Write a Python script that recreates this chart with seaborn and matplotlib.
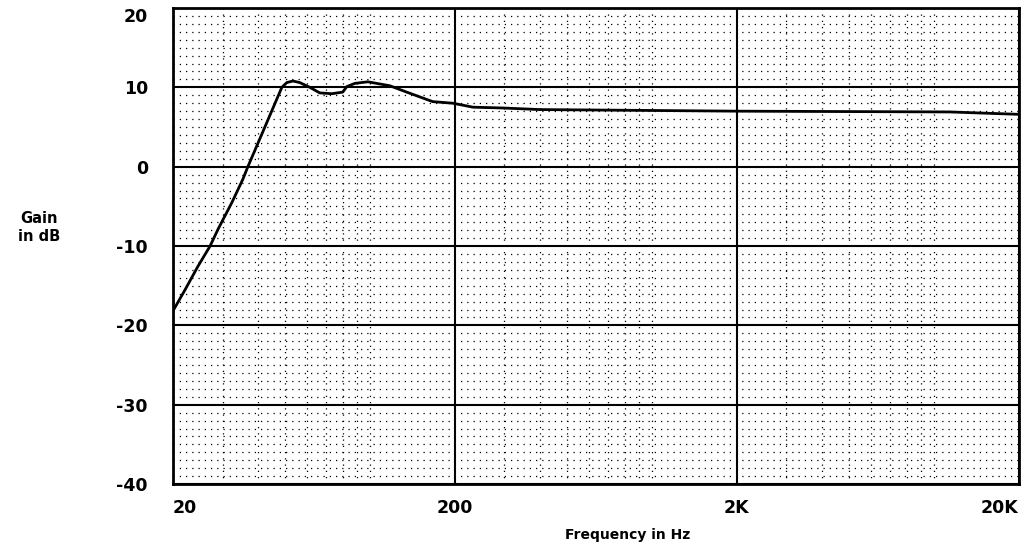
import numpy as np
import pandas as pd
import matplotlib
matplotlib.use("Agg")
import matplotlib.pyplot as plt
from matplotlib.ticker import FixedLocator, NullFormatter
import seaborn as sns

# ---- data ----
freqs = [20, 22.1, 24.5, 27.1, 28.9, 32.4, 35.4, 36.9, 42.4, 48.7, 50.7, 53.3, 56.4,
         61.2, 66.4, 73.3, 80.1, 82.8, 88.4, 98.3, 117.7, 135, 167, 197, 232, 296,
         400, 2000, 11400, 20000]
gains = [-18.2, -15.5, -12.6, -10.0, -7.9, -4.5, -1.6, 0.0, 5.0, 10.0, 10.6, 10.8, 10.6,
         10.0, 9.3, 9.2, 9.4, 10.1, 10.5, 10.7, 10.2, 9.4, 8.2, 8.0, 7.5, 7.4,
         7.2, 7.0, 6.9, 6.6]
x_ticks = [20, 200, 2000, 20000]
x_tick_labels = ["20", "200", "2K", "20K"]
y_ticks = [-40, -30, -20, -10, 0, 10, 20]
y_tick_labels = ["-40", "-30", "-20", "-10", "0", "10", "20"]
x_minor = [30, 40, 50, 60, 70, 80, 90, 100, 300, 400, 500, 600, 700, 800, 900, 1000,
           3000, 4000, 5000, 6000, 7000, 8000, 9000, 10000]
y_minor = [v for v in range(-40, 21) if v % 10 != 0]

df = pd.DataFrame({"Frequency": freqs, "Gain": gains})

sns.set_theme(style="white")
plt.rcParams["font.family"] = ["DejaVu Sans"]
plt.rcParams["text.color"] = "black"
plt.rcParams["xtick.color"] = "black"
plt.rcParams["ytick.color"] = "black"

fig = plt.figure(figsize=(10.29, 5.52), dpi=100)
ax = fig.add_axes([0.168, 0.123, 0.822, 0.8625])

# grid
for f in x_minor:
    ax.axvline(f, color="black", lw=0.9, ls=(0, (1, 4)), zorder=1)
for v in y_minor:
    ax.axhline(v, color="black", lw=0.9, ls=(0, (1, 4)), zorder=1)
for f in x_ticks:
    ax.axvline(f, color="black", lw=1.5, zorder=2)
for v in y_ticks:
    ax.axhline(v, color="black", lw=1.5, zorder=2)

sns.lineplot(data=df, x="Frequency", y="Gain", ax=ax, color="black", lw=2.0, zorder=3)

ax.set_xscale("log")
ax.set_xlim(20, 20000)
ax.set_ylim(-40, 20)
ax.xaxis.set_major_locator(FixedLocator(x_ticks))
ax.xaxis.set_minor_locator(FixedLocator([]))
ax.xaxis.set_minor_formatter(NullFormatter())
ax.set_xticklabels(x_tick_labels)
ax.set_yticks(y_ticks)
ax.set_yticklabels(y_tick_labels)
ax.tick_params(axis="both", length=0, labelsize=12.5, labelcolor="black")
ax.tick_params(axis="x", pad=11)
ax.tick_params(axis="y", pad=18)
for lab in ax.get_xticklabels() + ax.get_yticklabels():
    lab.set_fontweight("bold")
xl = ax.get_xticklabels()
xl[0].set_horizontalalignment("left")
xl[-1].set_horizontalalignment("right")
yl = ax.get_yticklabels()
yl[-1].set_verticalalignment("top")

for s in ax.spines.values():
    s.set_visible(True)
    s.set_color("black")
    s.set_linewidth(2.0)

ax.set_xlabel("")
ax.set_ylabel("")
fig.text(0.61, 0.03, "Frequency in Hz", ha="center", va="center", fontsize=10,
         fontweight="bold", color="black")
fig.text(0.038, 0.588, "Gain\nin dB", ha="center", va="center", fontsize=10.5,
         fontweight="bold", color="black", linespacing=1.3)

fig.savefig("out.png", dpi=100)
